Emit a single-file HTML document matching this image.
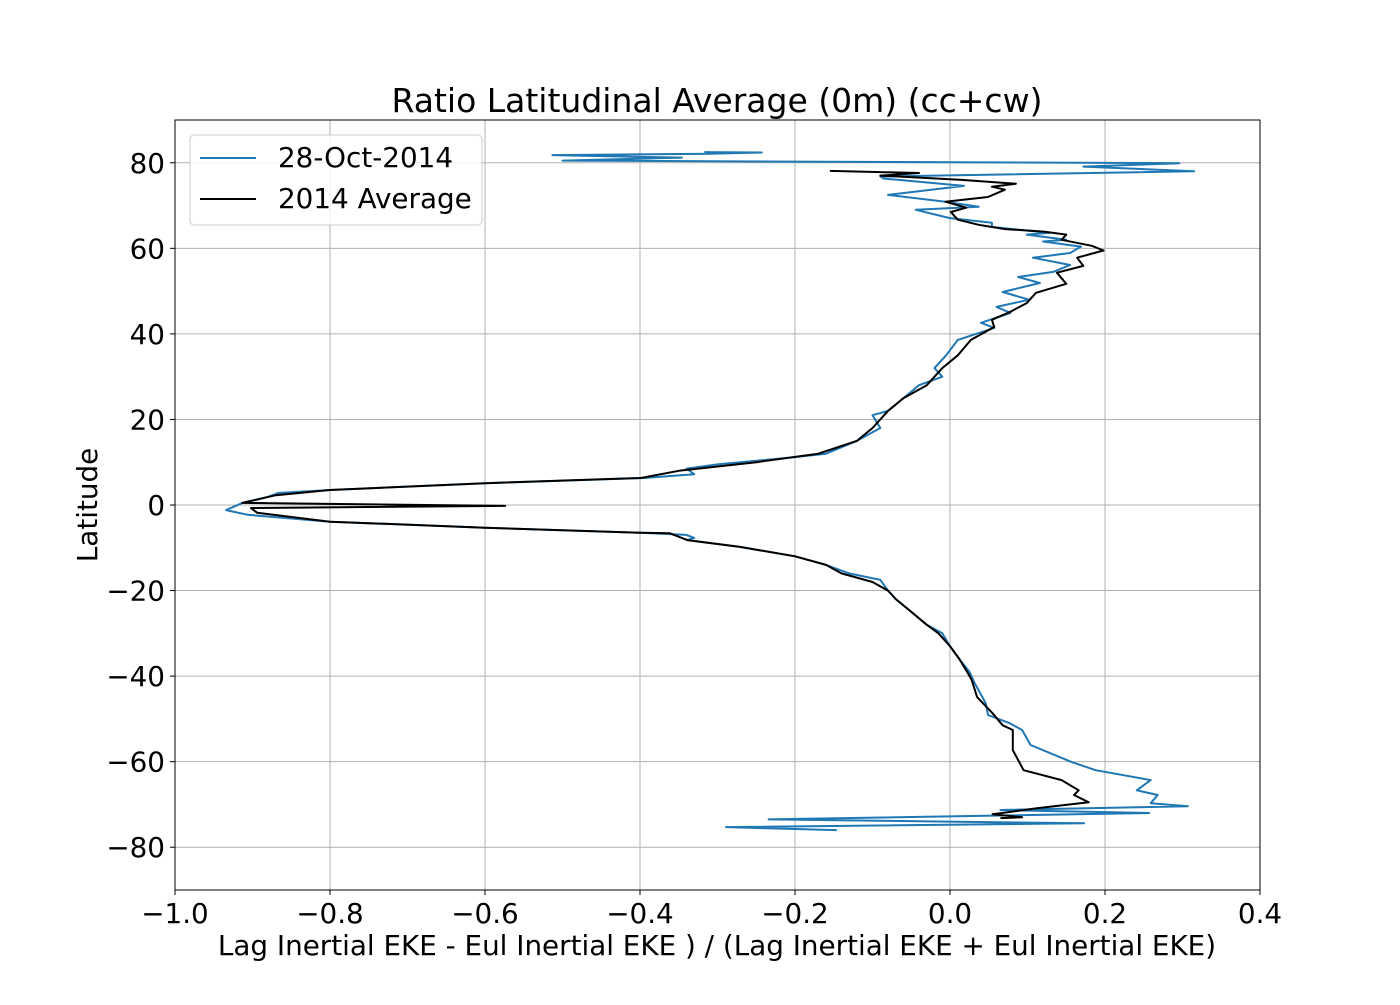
<!DOCTYPE html>
<html><head><meta charset="utf-8"><style>
body{margin:0;background:#fff;}
svg text{font-family:"DejaVu Sans","Liberation Sans",sans-serif;fill:#000;}
</style></head><body>
<svg id="chart" width="1400" height="1000" xmlns="http://www.w3.org/2000/svg">
<rect width="1400" height="1000" fill="#fff"/>
<g id="grid"></g>
<g id="series"></g>
<rect x="175" y="120" width="1085" height="770" fill="none" stroke="#000" stroke-width="1"/>
<g id="ticks"></g>
<text x="717" y="112" font-size="33" text-anchor="middle">Ratio Latitudinal Average (0m) (cc+cw)</text>
<text x="717" y="955" font-size="27.8" text-anchor="middle">Lag Inertial EKE - Eul Inertial EKE ) / (Lag Inertial EKE + Eul Inertial EKE)</text>
<text x="97" y="505" font-size="27.8" text-anchor="middle" transform="rotate(-90 97 505)">Latitude</text>
<g>
<rect x="190" y="135" width="292" height="90" rx="4" fill="#fff" fill-opacity="0.8" stroke="#ccc"/>
<line x1="200" y1="158" x2="256" y2="158" stroke="#1f77b4" stroke-width="2"/>
<text x="278" y="167" font-size="27.8">28-Oct-2014</text>
<line x1="200" y1="199" x2="256" y2="199" stroke="#000" stroke-width="2"/>
<text x="278" y="208" font-size="27.8">2014 Average</text>
</g>
</svg>
<script>
const xTicks=[-1.0,-0.8,-0.6,-0.4,-0.2,0.0,0.2,0.4];
const xTickLabels=["\u22121.0","\u22120.8","\u22120.6","\u22120.4","\u22120.2","0.0","0.2","0.4"];
const yTicks=[-80,-60,-40,-20,0,20,40,60,80];
const yTickLabels=["\u221280","\u221260","\u221240","\u221220","0","20","40","60","80"];
const octLat=[82.5,82.4,82.1,81.8,81.2,80.5,79.9,79.1,78.0,76.8,76.3,74.6,72.5,70.9,69.7,69.0,67.1,66.0,65.0,63.6,63.2,62.0,61.6,60.4,58.9,57.8,56.1,54.5,53.3,51.9,49.8,48.0,46.3,44.9,42.6,41.4,38.6,35,32,30,28,25,22,21,18,15,12,11,9.5,8.5,7.2,6.3,5.1,3.5,2.8,1.9,0.5,-1.2,-2.3,-3.9,-5.3,-6.5,-7.0,-7.7,-8.2,-9.8,-12,-14,-16,-17.5,-20,-22,-25,-28,-30,-33,-36,-39,-41.7,-46.3,-49.1,-51.0,-52.6,-56.1,-60.1,-62.0,-64.3,-66.7,-67.8,-69.7,-70.4,-71.3,-72.0,-73.5,-74.4,-75.3,-76.0];
const octVal=[-0.317,-0.243,-0.31,-0.513,-0.346,-0.50,0.296,0.172,0.315,-0.09,-0.085,0.018,-0.08,-0.006,0.037,-0.044,-0.001,0.054,0.054,0.128,0.099,0.150,0.12,0.169,0.155,0.107,0.155,0.133,0.088,0.116,0.068,0.102,0.06,0.078,0.04,0.057,0.01,-0.005,-0.02,-0.01,-0.04,-0.06,-0.08,-0.1,-0.09,-0.12,-0.16,-0.21,-0.3,-0.34,-0.33,-0.395,-0.6,-0.8,-0.867,-0.88,-0.913,-0.934,-0.906,-0.8,-0.6,-0.399,-0.34,-0.33,-0.339,-0.271,-0.2,-0.16,-0.13,-0.09,-0.08,-0.07,-0.05,-0.03,-0.01,0.0,0.012,0.025,0.032,0.046,0.049,0.077,0.093,0.104,0.157,0.188,0.259,0.241,0.268,0.259,0.307,0.065,0.257,-0.234,0.173,-0.289,-0.146];
const avgLat=[78.1,77.6,77.0,76.0,75.1,74.4,73.7,72.0,70.9,69.5,68.5,66.7,65.5,64.5,63.9,63.2,62.0,60.6,59.5,57.8,55.9,54.3,51.7,49.6,47.2,45.1,43.3,41.6,38.6,35,32,28,25,22,18,15,12,10,8,6.3,5.1,3.5,2.3,0.5,-0.2,-0.7,-1.8,-3.9,-5.3,-6.5,-6.6,-8.2,-9.8,-12,-14,-16,-18,-20,-22,-25,-28,-30,-33,-36,-39,-40.9,-44.9,-48.7,-51.5,-52.6,-57.3,-62.0,-64.3,-66.7,-67.8,-69.5,-70.9,-72.3,-73.0,-73.2];
const avgVal=[-0.155,-0.04,-0.09,0.015,0.085,0.054,0.071,0.049,-0.006,0.021,0.001,0.01,0.037,0.071,0.121,0.15,0.144,0.183,0.198,0.164,0.172,0.138,0.15,0.111,0.099,0.077,0.054,0.057,0.027,0.01,-0.01,-0.03,-0.06,-0.08,-0.1,-0.12,-0.17,-0.25,-0.35,-0.399,-0.6,-0.8,-0.87,-0.913,-0.574,-0.902,-0.894,-0.8,-0.6,-0.399,-0.362,-0.339,-0.271,-0.2,-0.16,-0.14,-0.1,-0.08,-0.07,-0.05,-0.03,-0.015,0.0,0.012,0.022,0.028,0.035,0.055,0.068,0.081,0.081,0.095,0.144,0.166,0.16,0.179,0.112,0.055,0.093,0.065];

const NS="http://www.w3.org/2000/svg";
const X0=175,X1=1260,Y0=890,Y1=120;
function sx(v){return X0+(v-(-1.0))/(0.4-(-1.0))*(X1-X0);}
function sy(v){return Y0-(v-(-90))/(180)*(Y0-Y1);}
const grid=document.getElementById('grid'),ticks=document.getElementById('ticks'),series=document.getElementById('series');
function mk(tag,attrs,parent){const e=document.createElementNS(NS,tag);for(const k in attrs)e.setAttribute(k,attrs[k]);parent.appendChild(e);return e;}
xTicks.forEach((t,i)=>{
  const x=sx(t);
  const g=mk('line',{x1:x,x2:x,y1:Y1,y2:Y0,stroke:'#b0b0b0','stroke-width':1},grid);
  
  
  const tk=mk('line',{x1:x,x2:x,y1:Y0,y2:Y0+5,stroke:'#000'},ticks);
  
  
  const tx=mk('text',{x:x,y:Y0+33,'font-size':27.8,'text-anchor':'middle'},ticks);
  tx.textContent=xTickLabels[i];
  
  
});
yTicks.forEach((t,i)=>{
  const y=sy(t);
  const g=mk('line',{x1:X0,x2:X1,y1:y,y2:y,stroke:'#b0b0b0','stroke-width':1},grid);
  
  
  const tk=mk('line',{x1:X0-5,x2:X0,y1:y,y2:y,stroke:'#000'},ticks);
  
  
  const tx=mk('text',{x:X0-10,y:y+10,'font-size':27.8,'text-anchor':'end'},ticks);
  tx.textContent=yTickLabels[i];
  
  
});
function line(lat,val,color){
  const d=lat.map((l,i)=>(i?'L':'M')+sx(val[i]).toFixed(1)+' '+sy(l).toFixed(1)).join(' ');
  return mk('path',{d:d,fill:'none',stroke:color,'stroke-width':2,'stroke-linejoin':'round'},series);
}
const p1=line(octLat,octVal,'#1f77b4');


const p2=line(avgLat,avgVal,'#000');


</script>
</body></html>
